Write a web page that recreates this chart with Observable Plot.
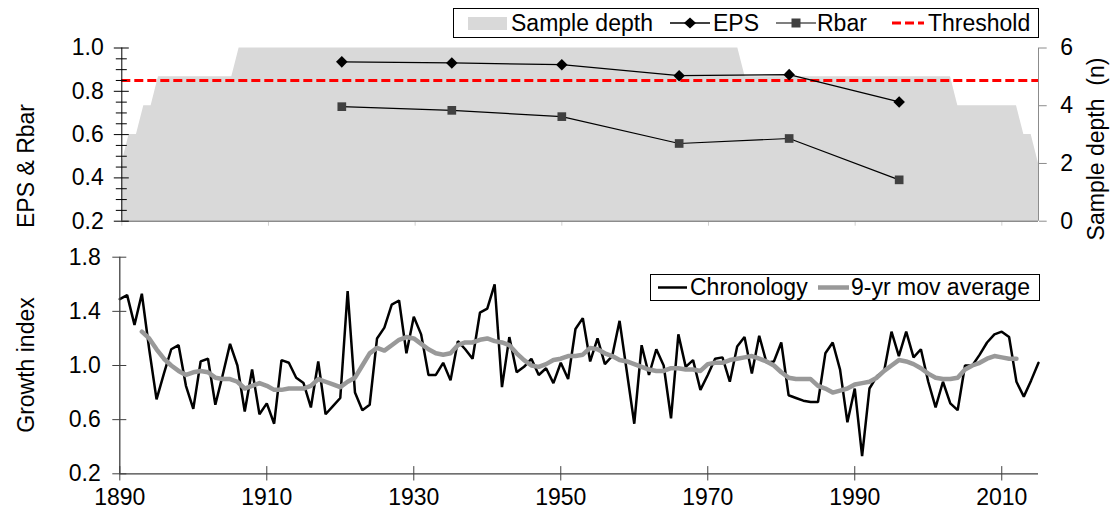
<!DOCTYPE html>
<html>
<head>
<meta charset="utf-8">
<script src="https://cdn.jsdelivr.net/npm/d3@7"></script>
<script src="https://cdn.jsdelivr.net/npm/@observablehq/plot@0.6"></script>
<style>
  body { margin: 0; background: #fff; }
  #chart { position: relative; width: 1120px; height: 522px; overflow: hidden;
           font-family: "Liberation Sans", Arial, sans-serif; font-size: 23px; color: #000; }
  #chart svg { position: absolute; left: 0; top: 0; }
  .legend { position: absolute; box-sizing: border-box; border: 1px solid #000; background: #fff; }
  .legend > * { position: absolute; top: 0; }
  .legend span { white-space: nowrap; }
  .title { position: absolute; white-space: pre; line-height: 1; transform: translate(-50%, -50%) rotate(-90deg); }
</style>
</head>
<body>
<div id="chart">
  <div class="legend" style="left:453px; top:8px; width:586px; height:30px; line-height:28px;">
    <svg style="left:14px; top:8px;" width="39" height="13"><rect width="39" height="13" fill="#d9d9d9"/></svg>
    <span style="left:57px;">Sample depth</span>
    <svg style="left:216px; top:4px;" width="40" height="20"><line x1="0" x2="40" y1="10" y2="10" stroke="#000" stroke-width="1.3"/><path d="M20,4.5L26,10L20,15.5L14,10Z" fill="#000"/></svg>
    <span style="left:259px;">EPS</span>
    <svg style="left:322px; top:4px;" width="40" height="20"><line x1="0" x2="40" y1="10" y2="10" stroke="#000" stroke-width="1.2"/><rect x="15.5" y="5.5" width="9" height="9" fill="#404040"/></svg>
    <span style="left:363px;">Rbar</span>
    <svg style="left:438px; top:4px;" width="32" height="20"><line x1="0" x2="32" y1="10" y2="10" stroke="#ff0000" stroke-width="3" stroke-dasharray="9,4"/></svg>
    <span style="left:474px;">Threshold</span>
  </div>
  <div class="legend" style="left:650px; top:274px; width:390px; height:27px; line-height:25px;">
    <svg style="left:7px; top:2px;" width="29" height="20"><line x1="0" x2="29" y1="10.5" y2="10.5" stroke="#000" stroke-width="2.5"/></svg>
    <span style="left:39px;">Chronology</span>
    <svg style="left:167px; top:2px;" width="31" height="20"><line x1="0" x2="31" y1="10.5" y2="10.5" stroke="#999" stroke-width="4.5"/></svg>
    <span style="left:200px;">9-yr mov average</span>
  </div>
  <div class="title" style="left:26px; top:166px;">EPS &amp; Rbar</div>
  <div class="title" style="left:26px; top:365px;">Growth index</div>
  <div class="title" style="left:1096px; top:149px;">Sample depth  (n)</div>
</div>
<script>
// ---- data ----
const firstYear = 1890;
const lastYear = 2015;

// ring-width index, one value per year from 1890
const chronology = [
  1.49, 1.52, 1.30, 1.53, 1.12, 0.75, 0.94, 1.12, 1.15, 0.85, // 1890s
  0.68, 1.03, 1.05, 0.71, 0.93, 1.16, 1.00, 0.66, 0.97, 0.64, // 1900s
  0.72, 0.57, 1.04, 1.02, 0.91, 0.87, 0.69, 1.03, 0.64, 0.70, // 1910s
  0.76, 1.55, 0.80, 0.67, 0.71, 1.20, 1.28, 1.45, 1.48, 1.09, // 1920s
  1.36, 1.23, 0.93, 0.93, 1.02, 0.89, 1.18, 1.12, 1.05, 1.39, // 1930s
  1.42, 1.60, 0.84, 1.21, 0.95, 0.99, 1.05, 0.93, 0.98, 0.87, // 1940s
  1.02, 0.90, 1.27, 1.35, 1.03, 1.20, 1.01, 1.07, 1.33, 0.95, // 1950s
  0.57, 1.15, 0.93, 1.12, 1.00, 0.61, 1.23, 0.99, 1.04, 0.82, // 1960s
  0.93, 1.05, 1.06, 0.88, 1.14, 1.21, 0.94, 1.22, 1.02, 1.03, // 1970s
  1.17, 0.78, 0.76, 0.74, 0.73, 0.73, 1.09, 1.17, 0.97, 0.58, // 1980s
  0.83, 0.33, 0.83, 0.92, 0.96, 1.25, 1.07, 1.25, 1.06, 1.12, // 1990s
  0.88, 0.69, 0.88, 0.72, 0.67, 1.00, 1.00, 1.08, 1.17, 1.23, // 2000s
  1.25, 1.21, 0.88, 0.77, 0.89, 1.02                          // 2010s
];

// 9-year moving average, 1893-2012
const avgFirstYear = 1893;
const movingAverage = [
                    1.25, 1.20, 1.12, 1.05, 1.00, 0.96, 0.93, // 1893-1899
  0.95, 0.96, 0.95, 0.91, 0.90, 0.90, 0.88, 0.83, 0.85, 0.87,
  0.85, 0.82, 0.82, 0.83, 0.83, 0.83, 0.85, 0.90, 0.88, 0.86,
  0.84, 0.88, 0.91, 1.00, 1.09, 1.13, 1.11, 1.15, 1.19, 1.21,
  1.20, 1.16, 1.12, 1.09, 1.08, 1.09, 1.15, 1.17, 1.17, 1.19,
  1.20, 1.18, 1.17, 1.15, 1.09, 1.04, 1.00, 0.99, 1.01, 1.04,
  1.05, 1.07, 1.07, 1.08, 1.13, 1.12, 1.09, 1.07, 1.04, 1.03,
  1.01, 0.99, 0.97, 0.96, 0.96, 0.98, 0.98, 0.97, 0.97, 0.96,
  1.01, 1.02, 1.02, 1.04, 1.05, 1.06, 1.07, 1.05, 1.03, 1.00,
  0.95, 0.91, 0.90, 0.90, 0.90, 0.85, 0.83, 0.80, 0.815, 0.83,
  0.86, 0.87, 0.88, 0.91, 0.96, 1.00, 1.04, 1.03, 1.01, 0.98,
  0.94, 0.91, 0.90, 0.90, 0.91, 0.97, 1.00, 1.02, 1.05, 1.07,
  1.06, 1.05, 1.05                                            // 2010-2012
];

// number of series per year from 1890
const sampleDepth = [
  2, 3, 3, 4, 4, 5, 5, 5, 5, 5,  // 1890s
  5, 5, 5, 5, 5, 5, 6, 6, 6, 6,  // 1900s
  6, 6, 6, 6, 6, 6, 6, 6, 6, 6,  // 1910s
  6, 6, 6, 6, 6, 6, 6, 6, 6, 6,  // 1920s
  6, 6, 6, 6, 6, 6, 6, 6, 6, 6,  // 1930s
  6, 6, 6, 6, 6, 6, 6, 6, 6, 6,  // 1940s
  6, 6, 6, 6, 6, 6, 6, 6, 6, 6,  // 1950s
  6, 6, 6, 6, 6, 6, 6, 6, 6, 6,  // 1960s
  6, 6, 6, 6, 6, 5, 5, 5, 5, 5,  // 1970s
  5, 5, 5, 5, 5, 5, 5, 5, 5, 5,  // 1980s
  5, 5, 5, 5, 5, 5, 5, 5, 5, 5,  // 1990s
  5, 5, 5, 5, 4, 4, 4, 4, 4, 4,  // 2000s
  4, 4, 4, 3, 3, 2               // 2010s
];

// running statistics
const statYears  = [1920, 1935, 1950, 1966, 1981, 1996];
const epsValues  = [0.936, 0.931, 0.923, 0.872, 0.877, 0.751];
const rbarValues = [0.729, 0.712, 0.683, 0.559, 0.582, 0.391];
const epsThreshold = 0.85;

// axis ticks
const yearTicks   = [1890, 1910, 1930, 1950, 1970, 1990, 2010];
const epsTicks    = [0.2, 0.4, 0.6, 0.8, 1.0];
const epsMinor    = [0.25, 0.3, 0.35, 0.45, 0.5, 0.55, 0.65, 0.7, 0.75, 0.85, 0.9, 0.95];
const depthTicks  = [0, 2, 4, 6];
const growthTicks = [0.2, 0.6, 1.0, 1.4, 1.8];

// ---- tables ----
const chronRows = chronology.map((v, i) => ({year: firstYear + i, value: v}));
const avgRows = movingAverage.map((v, i) => ({year: avgFirstYear + i, value: v}));
const depthRows = sampleDepth.map((n, i) => ({year: firstYear + i, n}));
const statRows = statYears.map((y, i) => ({year: y, eps: epsValues[i], rbar: rbarValues[i]}));

// sample depth (0-6) shares the panel with EPS/Rbar (0.2-1.0)
const epsMin = 0.2, epsMax = 1.0, depthMax = 6;
const depthToEps = n => epsMin + n * (epsMax - epsMin) / depthMax;
const epsToDepth = v => Math.round((v - epsMin) * depthMax / (epsMax - epsMin));

const font = '"Liberation Sans", Arial, sans-serif';
const baseStyle = {fontFamily: font, fontSize: "23px", color: "#000", background: "transparent", overflow: "visible"};
const grey = "#8c8c8c";

// ---- upper panel: sample depth, EPS and Rbar ----
const upper = Plot.plot({
  width: 1120, height: 522,
  marginLeft: 121.3, marginRight: 82, marginTop: 47.5, marginBottom: 301.3,
  x: {domain: [firstYear, lastYear], label: null},
  y: {domain: [epsMin, epsMax], label: null},
  style: baseStyle,
  marks: [
    Plot.areaY(depthRows, {x: "year", y1: epsMin, y2: d => depthToEps(d.n), fill: "#d9d9d9"}),
    Plot.ruleY([epsThreshold], {stroke: "#ff0000", strokeWidth: 3, strokeDasharray: "9,4"}),
    Plot.line(statRows, {x: "year", y: "rbar", stroke: "#000", strokeWidth: 1.2}),
    Plot.dot(statRows, {x: "year", y: "rbar", symbol: "square", r: 4.9, fill: "#404040"}),
    Plot.line(statRows, {x: "year", y: "eps", stroke: "#000", strokeWidth: 1.3}),
    Plot.dot(statRows, {x: "year", y: "eps", symbol: "diamond2", r: 5.2, fill: "#000"}),
    // axes
    Plot.axisX({ticks: yearTicks, tickSize: 5, tickFormat: () => "", stroke: "#d0d0d0", label: null}),
    Plot.ruleY([epsMin], {stroke: grey, strokeWidth: 1.5}),
    Plot.ruleX([firstYear], {stroke: "#000"}),
    Plot.axisY({ticks: epsMinor, tickSize: 11, dx: 5.5, tickFormat: () => "", label: null}),
    Plot.axisY({ticks: epsTicks, tickSize: 15, dx: 7.5, tickFormat: () => "", label: null}),
    Plot.axisY({ticks: epsTicks, tickSize: 0, tickPadding: 18, tickFormat: d3.format(".1f"), label: null}),
    Plot.ruleX([lastYear], {stroke: grey}),
    Plot.axisY({anchor: "right", ticks: depthTicks.map(depthToEps), tickSize: 7.7, tickPadding: 14,
                tickFormat: epsToDepth, stroke: grey, label: null})
  ]
});

// ---- lower panel: chronology ----
const lower = Plot.plot({
  width: 1120, height: 522,
  marginLeft: 119.3, marginRight: 82, marginTop: 256.7, marginBottom: 48.7,
  x: {domain: [firstYear, lastYear], label: null},
  y: {domain: [0.2, 1.8], label: null},
  style: baseStyle,
  marks: [
    Plot.line(chronRows, {x: "year", y: "value", stroke: "#000", strokeWidth: 2.5, strokeLinejoin: "miter"}),
    Plot.line(avgRows, {x: "year", y: "value", stroke: "#999", strokeWidth: 4.5}),
    // axes
    Plot.ruleY([0.2], {stroke: "#404040", strokeWidth: 1.3}),
    Plot.ruleX([firstYear], {stroke: "#404040", strokeWidth: 1.3}),
    Plot.axisX({ticks: yearTicks, tickSize: 14.4, dy: -7.2, tickFormat: () => "", stroke: "#404040", label: null}),
    Plot.axisX({ticks: yearTicks, tickSize: 0, tickPadding: 15, tickFormat: d => String(d), label: null}),
    Plot.axisY({ticks: growthTicks, tickSize: 14, dx: 7, tickFormat: () => "", stroke: "#404040", label: null}),
    Plot.axisY({ticks: growthTicks, tickSize: 0, tickPadding: 19, tickFormat: d3.format(".1f"), label: null})
  ]
});

const chart = document.getElementById("chart");
chart.prepend(upper);
chart.prepend(lower);
</script>
</body>
</html>
